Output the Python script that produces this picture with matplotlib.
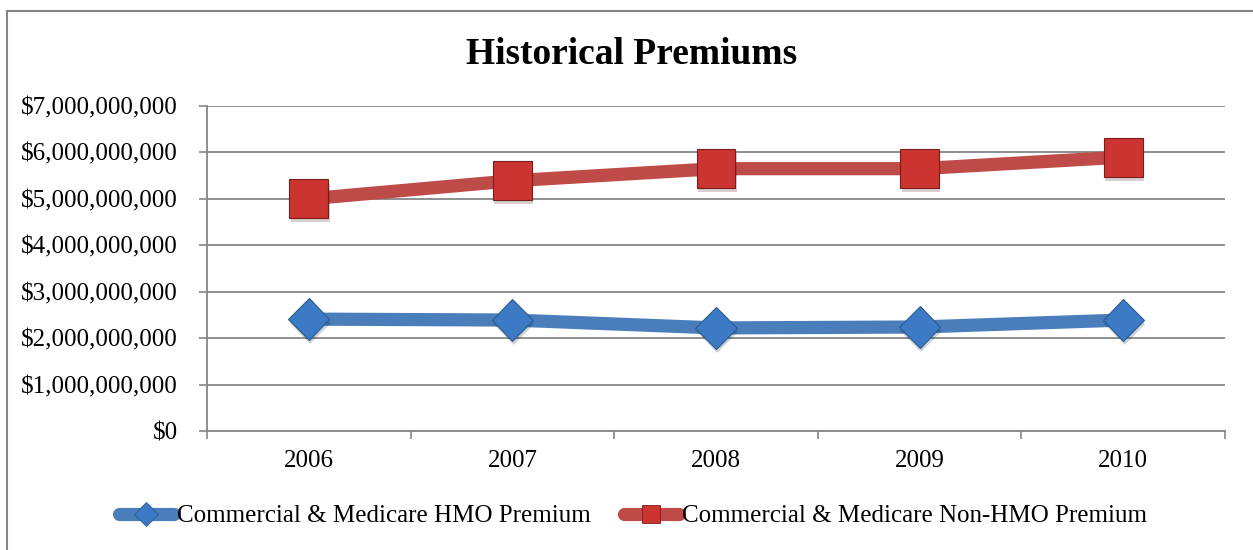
import matplotlib
matplotlib.use("Agg")
import matplotlib.pyplot as plt
from matplotlib.patches import Rectangle
from matplotlib.ticker import FuncFormatter, MultipleLocator
from matplotlib.lines import Line2D
import matplotlib.patheffects as pe

years = ["2006", "2007", "2008", "2009", "2010"]
hmo = [2.41e9, 2.39e9, 2.22e9, 2.24e9, 2.39e9]
non_hmo = [5.00e9, 5.39e9, 5.65e9, 5.65e9, 5.90e9]
labels = ["Commercial & Medicare HMO Premium", "Commercial & Medicare Non-HMO Premium"]

plt.rcParams['font.family'] = ['Liberation Serif', 'DejaVu Serif']

fig = plt.figure(figsize=(12.53, 5.5), dpi=100)
fig.patches.append(Rectangle((7/1253, -0.1), 1.2, (550-11)/550 + 0.1, transform=fig.transFigure,
                             fill=False, edgecolor='#868686', linewidth=1.5))

ax = fig.add_axes([207/1253, (550-431)/550, (1225-207)/1253, (431-106)/550])
x = list(range(len(years)))

blue_line, blue_face, blue_edge = '#4A7EBB', '#3C7AC6', '#2B5A8C'
red_line, red_face, red_edge = '#BE4B48', '#CC3431', '#7A1C1A'
shadow = [pe.SimplePatchShadow(offset=(1, -3), alpha=0.2), pe.Normal()]

ax.plot(x, hmo, color=blue_line, linewidth=9.5, solid_capstyle='round', zorder=3)
ax.plot(x, hmo, linestyle='none', marker='D', markersize=21, markerfacecolor=blue_face,
        markeredgecolor=blue_edge, markeredgewidth=0.8, zorder=4, path_effects=shadow)
ax.plot(x, non_hmo, color=red_line, linewidth=9.5, solid_capstyle='round', zorder=3)
ax.plot(x, non_hmo, linestyle='none', marker='s', markersize=28, markerfacecolor=red_face,
        markeredgecolor=red_edge, markeredgewidth=0.8, zorder=4, path_effects=shadow)

ax.set_xlim(-0.5, len(years) - 0.5)
ax.set_ylim(0, 7e9)
ax.yaxis.set_major_locator(MultipleLocator(1e9))
ax.yaxis.set_major_formatter(FuncFormatter(lambda v, p: "${:,.0f}".format(v)))
ax.set_xticks(x)
ax.set_xticklabels(years)
ax.set_xticks([i - 0.5 for i in range(len(years) + 1)], minor=True)
ax.tick_params(axis='x', which='major', length=0, pad=14, labelsize=18)
ax.tick_params(axis='x', which='minor', length=6, color='#868686', width=1.2, direction='out')
ax.tick_params(axis='y', length=6, color='#868686', width=1.2, pad=15, labelsize=18)
ax.grid(axis='y', color='#868686', linewidth=1.3)
ax.set_axisbelow(True)
for s in ['top', 'right']:
    ax.spines[s].set_visible(False)
for s in ['left', 'bottom']:
    ax.spines[s].set_color('#868686')
    ax.spines[s].set_linewidth(1.3)

fig.text(632/1253, 1 - 54/550, "Historical Premiums", ha='center', va='center',
         fontsize=27, fontweight='bold')

handles = [
    Line2D([0], [0], color=blue_line, linewidth=9.5, solid_capstyle='round', marker='D',
           markersize=12, markerfacecolor=blue_face, markeredgecolor=blue_edge, markeredgewidth=0.6),
    Line2D([0], [0], color=red_line, linewidth=9.5, solid_capstyle='round', marker='s',
           markersize=13, markerfacecolor=red_face, markeredgecolor=red_edge, markeredgewidth=0.6),
]
fig.legend(handles, labels, loc='center', bbox_to_anchor=(633/1253, 1 - 516/550), ncol=2,
           frameon=False, fontsize=18, handlelength=2.2, handletextpad=0.15, columnspacing=1.3)

fig.savefig("out.png", dpi=100)
